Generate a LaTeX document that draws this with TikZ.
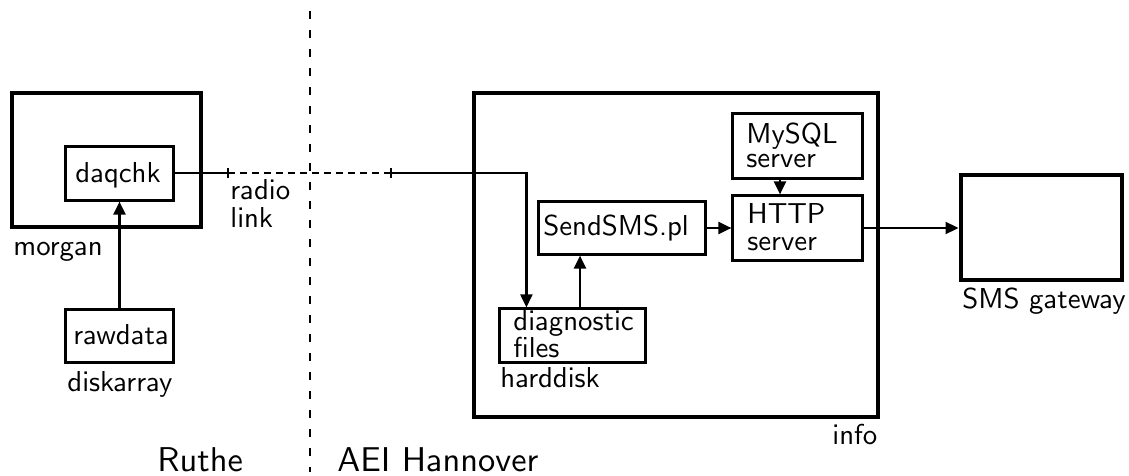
\documentclass[tikz,border=0pt]{standalone}
\usetikzlibrary{arrows.meta}
\font\sfmain=cmss10 at 14.4pt
\font\sfbig=cmss10 at 17.2pt
\newcommand\mainf{\sfmain\baselineskip=13.5pt\relax}
\newcommand\mysqlf{\sfmain\baselineskip=12pt\relax}
\begin{document}
\begin{tikzpicture}[x=0.5pt,y=-0.5pt,
  font=\mainf,
  thickbox/.style={draw, line width=2pt, inner sep=0pt},
  thinbox/.style={draw, line width=1.1pt, inner sep=0pt},
  txt/.style={anchor=base west, inner sep=0pt, align=left},
  big/.style={anchor=base west, inner sep=0pt, font=\sfbig},
  arr/.style={line width=1.1pt, -{Triangle[length=6.5pt,width=6pt]}},
  conn/.style={line width=1.1pt},
  sep/.style={line width=0.8pt, dash pattern=on 4pt off 5.5pt},
  radiodash/.style={line width=0.8pt, dash pattern=on 3.5pt off 2.5pt}]
\useasboundingbox (0,0) rectangle (1129,476);
% boxes
\node[thickbox, minimum width=94.5pt, minimum height=66.5pt] (morgan) at (106,160) {};
\node[thinbox, minimum width=54pt, minimum height=27pt] (daq) at (119.5,173.5) {};
\node[thinbox, minimum width=54pt, minimum height=26.5pt] (raw) at (119.5,336) {};
\node[thickbox, minimum width=202pt, minimum height=161.5pt] (info) at (675.5,255) {};
\node[thinbox, minimum width=73pt, minimum height=27pt] (diag) at (572.5,335.5) {};
\node[thinbox, minimum width=83.5pt, minimum height=26.5pt] (send) at (622,228) {};
\node[thinbox, minimum width=65pt, minimum height=32.5pt] (http) at (797.5,228) {};
\node[thinbox, minimum width=65pt, minimum height=32.5pt] (mysql) at (797.5,146) {};
\node[thickbox, minimum width=80.5pt, minimum height=52.5pt] (sms) at (1041,227) {};
% texts (base = baseline of the last line)
\node[txt] (tdaq) at (75,182) {daqchk};
\node[txt] (traw) at (73,344) {rawdata};
\node[txt] (tmorgan) at (13,255) {morgan};
\node[txt] (tdisk) at (67,391) {diskarray};
\node[txt] (tradio) at (230,227) {radio\\link};
\node[txt] (tsend) at (543,235) {SendSMS.pl};
\node[txt, font=\mysqlf] (tmysql) at (746,167) {MySQL\\server};
\node[txt] (thttp) at (747,250) {HTTP\\server};
\node[txt] (tdiag) at (513,357) {diagnostic\\files};
\node[txt] (thard) at (500,387) {harddisk};
\node[txt] (tinfo) at (832,444) {info};
\node[txt] (tsms) at (962,308) {SMS gateway};
\node[big] (truthe) at (157,471) {Ruthe};
\node[big] (taei) at (337,471) {AEI Hannover};
% separator
\coordinate (sepT) at (310,11);
\coordinate (sepB) at (310,472);
\draw[sep] (sepT) -- (sepB);
% radio link
\coordinate (t1) at (228,173);
\coordinate (t2) at (391,173);
\draw[conn] (daq.east |- t1) -- (t1);
\draw[conn] ([yshift=-2.5pt]t1) -- ([yshift=2.5pt]t1);
\draw[radiodash] (t1) -- (t2);
\draw[conn] ([yshift=-2.5pt]t2) -- ([yshift=2.5pt]t2);
\draw[arr] (t2) -| ([xshift=14pt]diag.north west);
% other connectors
\draw[arr] (raw.north) -- (daq.south);
\draw[arr] ([xshift=3.75pt]diag.north) -- ([xshift=3.75pt]diag.north |- send.south);
\draw[arr] (send.east) -- (http.west);
\draw[arr] ([xshift=-8.75pt]mysql.south) -- ([xshift=-8.75pt]http.north);
\draw[arr] (http.east) -- (http.east -| sms.west);
\end{tikzpicture}
\end{document}
